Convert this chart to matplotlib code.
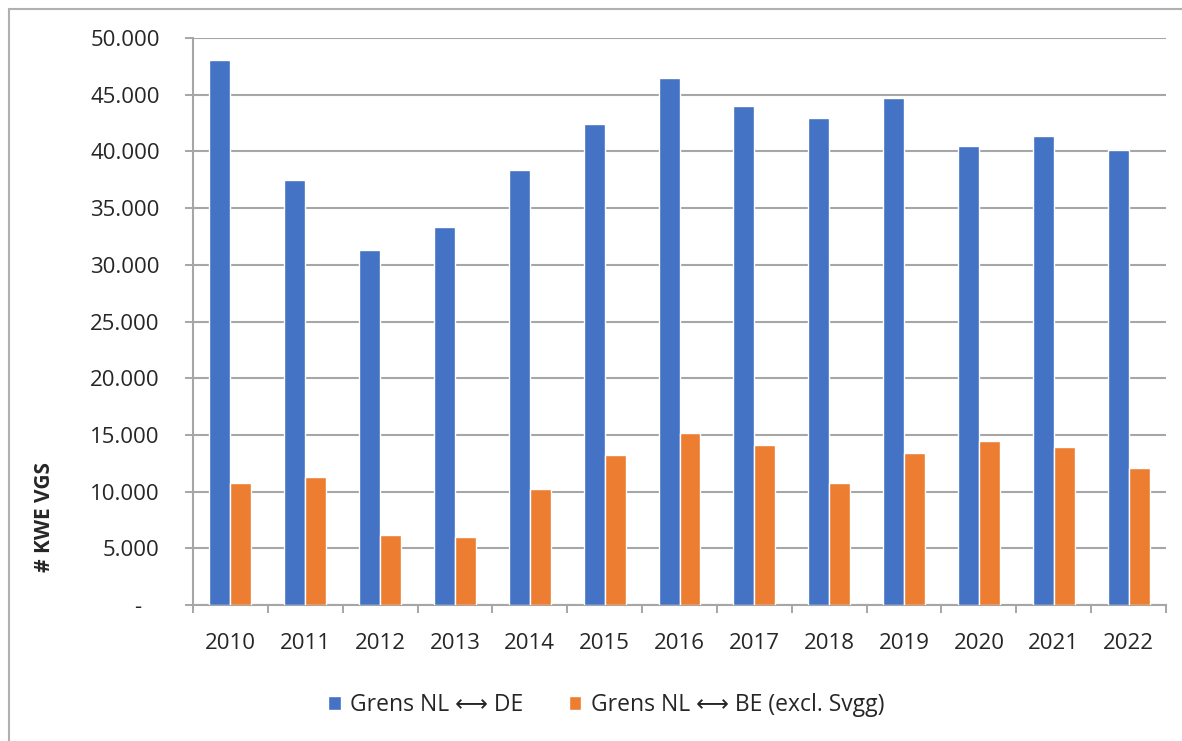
import matplotlib
matplotlib.use('Agg')
import matplotlib.pyplot as plt
import matplotlib.patches as patches
from matplotlib.ticker import FuncFormatter, FixedLocator
import numpy as np

# data
years = ['2010', '2011', '2012', '2013', '2014', '2015', '2016',
         '2017', '2018', '2019', '2020', '2021', '2022']
nl_de = [48060, 37480, 31300, 33330, 38360, 42420, 46470,
         44000, 42950, 44710, 40480, 41360, 40120]
nl_be = [10760, 11290, 6170, 6000, 10230, 13230, 15170,
         14110, 10760, 13400, 14460, 13930, 12080]
legend_labels = ['Grens NL \u27f7 DE', 'Grens NL \u27f7 BE (excl. Svgg)']
ylabel = '# KWE VGS'

blue = '#4472C4'
orange = '#ED7D31'
grid_col = '#A6A6A6'
txt_col = '#262626'

plt.rcParams['font.family'] = ['Open Sans', 'DejaVu Sans']

fig = plt.figure(figsize=(11.82, 7.41), dpi=100)
ax = fig.add_axes([193/1182, 1-605/741, (1166-193)/1182, (605-38)/741])

x = np.arange(len(years))
w = 0.28
b1 = ax.bar(x - w/2, nl_de, w, color=blue, edgecolor='white', linewidth=1, zorder=3)
b2 = ax.bar(x + w/2, nl_be, w, color=orange, edgecolor='white', linewidth=1, zorder=3)

ax.set_xlim(-0.5, len(years) - 0.5)
ax.set_ylim(0, 50000)
ax.set_yticks(np.arange(0, 50001, 5000))

def fmt(v, pos):
    if v == 0:
        return '-   '
    return f'{int(v):,}'.replace(',', '.')
ax.yaxis.set_major_formatter(FuncFormatter(fmt))

ax.set_xticks(x)
ax.set_xticklabels(years)
ax.xaxis.set_minor_locator(FixedLocator(np.arange(-0.5, len(years), 1)))
ax.tick_params(axis='x', which='major', length=0, pad=20, labelsize=16, labelcolor=txt_col)
ax.tick_params(axis='x', which='minor', length=6, width=1.4, color=grid_col)
ax.tick_params(axis='y', length=6, width=1.4, color=grid_col, pad=18, labelsize=16, labelcolor=txt_col)

ax.grid(axis='y', color=grid_col, linewidth=1.5, zorder=0)
ax.set_axisbelow(True)
for s in ['top', 'right']:
    ax.spines[s].set_visible(False)
for s in ['left', 'bottom']:
    ax.spines[s].set_color(grid_col)
    ax.spines[s].set_linewidth(1.5)

fig.text(45/1182, 1-517/741, ylabel, rotation=90, ha='center', va='center',
         fontsize=15, fontweight='bold', color=txt_col)

fig.legend([b1, b2], legend_labels, loc='center', bbox_to_anchor=(606/1182, 1-705/741),
           ncol=2, frameon=False, fontsize=16.5, handlelength=0.55, handleheight=0.55,
           handletextpad=0.4, columnspacing=2.0, labelcolor=txt_col)

# outer chart border
fig.patches.append(patches.Rectangle((9/1182, -0.1), 1.2, 1.1 - 9/741,
                                     transform=fig.transFigure, fill=False,
                                     edgecolor='#B0B0B0', linewidth=1.5))

fig.savefig('out.png', dpi=100)
